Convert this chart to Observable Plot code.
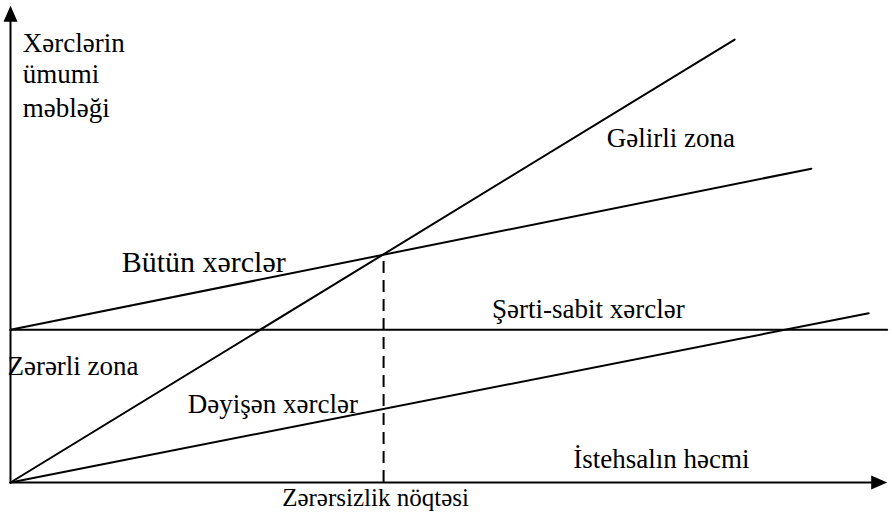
<!DOCTYPE html>
<html>
<head>
<meta charset="utf-8">
<script src="https://cdn.jsdelivr.net/npm/d3@7"></script>
<script src="https://cdn.jsdelivr.net/npm/@observablehq/plot@0.6"></script>
<style>
  html, body { margin: 0; padding: 0; background: #fff; }
  #chart svg { display: block; }
  #chart svg text { font-family: "Liberation Serif", "Times New Roman", Times, "DejaVu Serif", serif !important; }
</style>
</head>
<body>
<div id="chart"></div>
<script>
// Break-even chart values (volume on x, amount on y; both 0–100)
const revenueLine      = [{x: 0, y: 0},    {x: 82.1, y: 91.9}];
const totalCostLine    = [{x: 0, y: 31.7}, {x: 90.8, y: 65.1}];
const fixedCostLine    = [{x: 0, y: 31.7}, {x: 99.4, y: 31.7}];
const variableCostLine = [{x: 0, y: 0},    {x: 97.3, y: 35.1}];
const breakEvenPoint   = [{x: 42.3, y: 47.3}];
const axisEnds         = {x: 99.4, y: 98.9};

const labelTexts = [
  "Xərclərin", "ümumi", "məbləği",
  "Bütün xərclər", "Gəlirli zona", "Şərti-sabit xərclər",
  "Zərərli zona", "Dəyişən xərclər", "İstehsalın həcmi",
  "Zərərsizlik nöqtəsi"
];
const labelX = [1.4, 1.4, 1.4, 12.6, 67.6, 54.6, -0.35, 20.1, 63.8, 30.8];
const labelY = [89.4, 82.8, 75.9, 43.6, 69.7, 34.2, 22.2, 14.5, 3.1, -4.8];
const labels = labelTexts.map((text, i) => ({text, x: labelX[i], y: labelY[i]}));

const fontSizes = [27, 27, 27, 30, 27, 27, 27, 27, 27, 25];

// Filled arrowhead symbol with its tip at the origin, pointing up
const arrowHead = {
  draw(context) {
    context.moveTo(0, 0);
    context.lineTo(7, 16);
    context.lineTo(-7, 16);
    context.closePath();
  }
};

const serif = "Liberation Serif";

const chart = Plot.plot({
  width: 892,
  height: 513,
  marginLeft: 10,
  marginRight: 0,
  marginTop: 0,
  marginBottom: 31,
  x: {domain: [0, 100], axis: null},
  y: {domain: [0, 100], axis: null},
  style: {background: "#fff", fontFamily: serif},
  marks: [
    // axes
    Plot.ruleX([0], {y1: -0.3, y2: axisEnds.y - 2, stroke: "black", strokeWidth: 2}),
    Plot.ruleY([0], {x1: 0, x2: axisEnds.x - 1.5, stroke: "black", strokeWidth: 2}),
    Plot.dot([{x: 0, y: axisEnds.y}], {x: "x", y: "y", symbol: arrowHead, fill: "black", stroke: null, r: 5}),
    Plot.dot([{x: axisEnds.x, y: 0}], {x: "x", y: "y", symbol: arrowHead, rotate: 90, fill: "black", stroke: null, r: 5}),
    // lines
    Plot.line(revenueLine, {x: "x", y: "y", stroke: "black", strokeWidth: 2}),
    Plot.line(totalCostLine, {x: "x", y: "y", stroke: "black", strokeWidth: 2}),
    Plot.line(fixedCostLine, {x: "x", y: "y", stroke: "black", strokeWidth: 2}),
    Plot.line(variableCostLine, {x: "x", y: "y", stroke: "black", strokeWidth: 2}),
    Plot.ruleX(breakEvenPoint, {x: "x", y1: 0, y2: "y", stroke: "black", strokeWidth: 2, strokeDasharray: "12,7"}),
    // labels
    ...labels.map((d, i) => Plot.text([d], {
      x: "x", y: "y", text: "text",
      textAnchor: "start", lineAnchor: "bottom",
      fontSize: fontSizes[i], fontFamily: serif, fill: "black"
    }))
  ]
});

document.getElementById("chart").appendChild(chart);
</script>
</body>
</html>
